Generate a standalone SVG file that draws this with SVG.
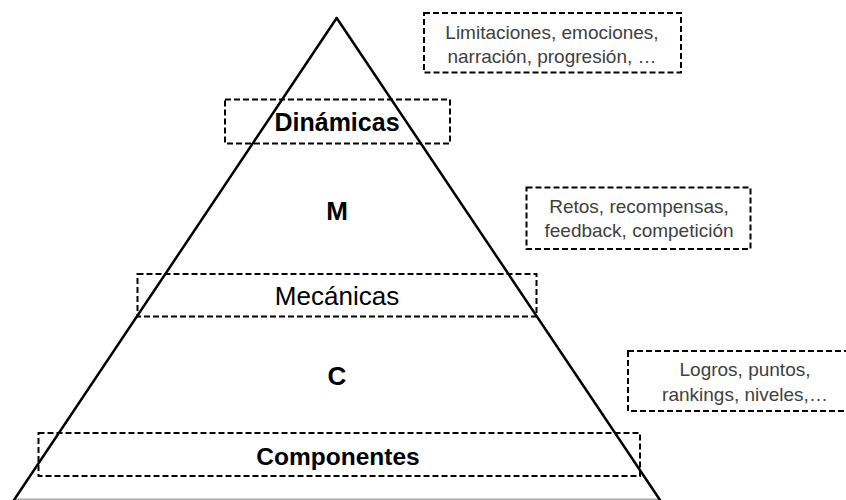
<svg xmlns="http://www.w3.org/2000/svg" width="846" height="500" viewBox="0 0 846 500">
  <style>
    .dash { fill: none; stroke: #000; stroke-width: 2; stroke-dasharray: 6 3; }
    .side { stroke: #000; stroke-width: 2.5; fill: none; stroke-linecap: round; }
    .base { stroke: #aaaaaa; stroke-width: 1.5; }
    .lvl { font-family: "Liberation Sans", Arial, sans-serif; fill: #000; text-anchor: middle; }
    .note { font-family: "Liberation Sans", Arial, sans-serif; font-size: 19px; fill: #404040; text-anchor: middle; }
  </style>
  <rect width="846" height="500" fill="#fff"/>
  <g id="pyramid">
    <line class="base" x1="14" y1="499.2" x2="660" y2="499.2"/>
    <line class="side" x1="336.7" y1="18" x2="14" y2="500"/>
    <line class="side" x1="336.7" y1="18" x2="660" y2="500"/>
  </g>
  <g id="dinamicas">
    <rect class="dash" x="225" y="99.5" width="225" height="44"/>
    <text class="lvl" x="337" y="131" font-size="25" font-weight="bold">Dinámicas</text>
  </g>
  <g id="m-label">
    <text class="lvl" x="337" y="219.5" font-size="26" font-weight="bold">M</text>
  </g>
  <g id="mecanicas">
    <rect class="dash" x="137.5" y="274" width="399" height="42.5"/>
    <text class="lvl" x="337" y="305" font-size="26">Mecánicas</text>
  </g>
  <g id="c-label">
    <text class="lvl" x="337" y="385" font-size="26" font-weight="bold">C</text>
  </g>
  <g id="componentes">
    <rect class="dash" x="38.5" y="433" width="601.5" height="43"/>
    <text class="lvl" x="338" y="465" font-size="24.5" font-weight="bold">Componentes</text>
  </g>
  <g id="note-dinamicas">
    <rect class="dash" x="424" y="13" width="257" height="59.5"/>
    <text class="note" x="552" y="39">Limitaciones, emociones,</text>
    <text class="note" x="552" y="63">narración, progresión, …</text>
  </g>
  <g id="note-mecanicas">
    <rect class="dash" x="526.5" y="187.5" width="224" height="61.5"/>
    <text class="note" x="639" y="212.5">Retos, recompensas,</text>
    <text class="note" x="639" y="237">feedback, competición</text>
  </g>
  <g id="note-componentes">
    <rect class="dash" x="628" y="351" width="240" height="60"/>
    <text class="note" x="745" y="376">Logros, puntos,</text>
    <text class="note" x="745" y="400.5">rankings, niveles,…</text>
  </g>
  <g id="connectors"/>
</svg>
